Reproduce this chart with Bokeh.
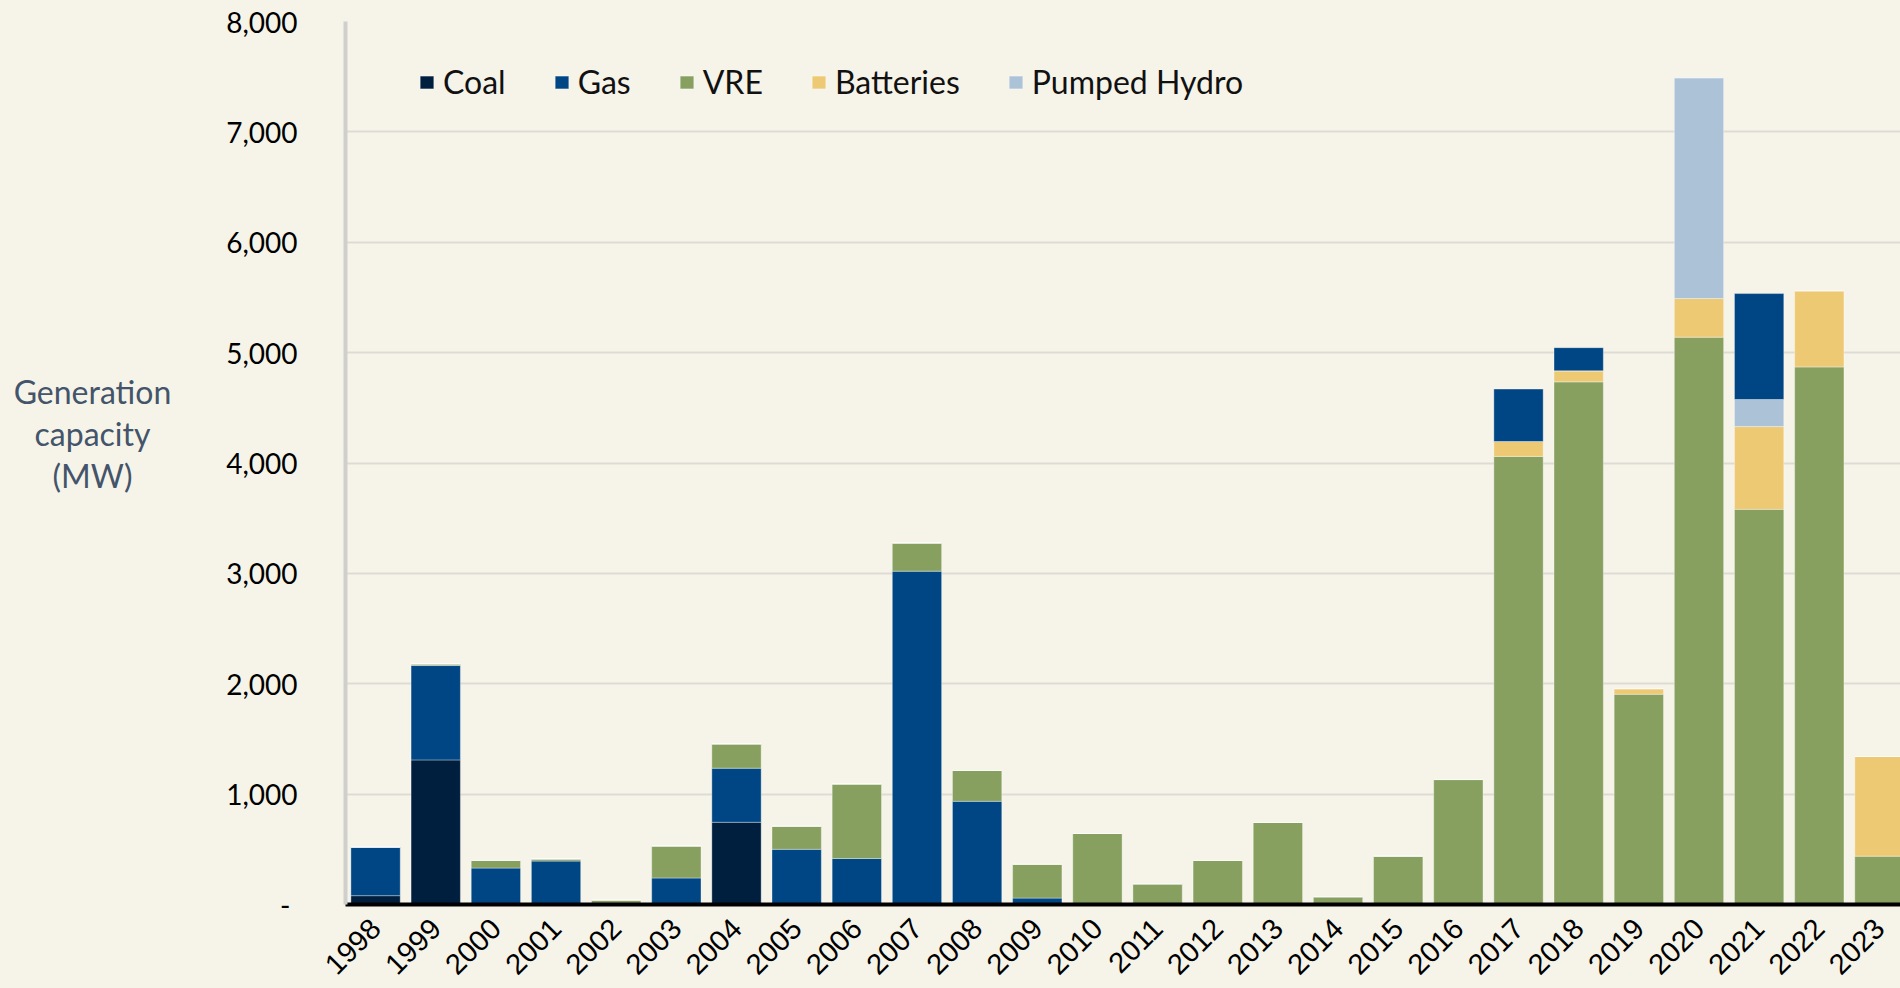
import math
from bokeh.plotting import figure
from bokeh.layouts import row
from bokeh.models import (ColumnDataSource, Range1d, FixedTicker, NumeralTickFormatter,
                          Legend, LegendItem)
from bokeh.core.properties import value
from bokeh.embed import file_html
from bokeh.resources import INLINE

# ---------------- data (MW of new generation capacity per year) ----------------
years = list(range(1998, 2024))
coal = [80, 1310, 0, 0, 0, 0, 745, 0, 0, 0, 0, 0, 0,
        0, 0, 0, 0, 0, 0, 0, 0, 0, 0, 0, 0, 0]
gas = [440, 855, 330, 393, 0, 240, 490, 500, 417, 3020, 935, 58, 0,
       0, 0, 0, 0, 0, 0, 0, 0, 0, 0, 0, 0, 0]
vre = [0, 15, 70, 20, 40, 290, 220, 210, 675, 255, 280, 307, 643,
       187, 399, 743, 70, 438, 1132, 4060, 4735, 1905, 5140, 3580, 4870, 438]
batteries = [0, 0, 0, 0, 0, 0, 0, 0, 0, 0, 0, 0, 0,
             0, 0, 0, 0, 0, 0, 135, 100, 50, 350, 750, 690, 903]
pumped_hydro = [0, 0, 0, 0, 0, 0, 0, 0, 0, 0, 0, 0, 0,
                0, 0, 0, 0, 0, 0, 0, 0, 0, 2000, 245, 0, 0]
gas_top = [0, 0, 0, 0, 0, 0, 0, 0, 0, 0, 0, 0, 0,
           0, 0, 0, 0, 0, 0, 475, 210, 0, 0, 960, 0, 0]
series_names = ["Coal", "Gas", "VRE", "Batteries", "Pumped Hydro"]
y_ticks = [0, 1000, 2000, 3000, 4000, 5000, 6000, 7000, 8000]
y_title_lines = ["Generation", "capacity", "(MW)"]

# ---------------- styling ----------------
BG = "#F6F4E9"
C_COAL = "#001F3F"
C_GAS = "#004684"
C_VRE = "#87A05F"
C_BATT = "#EDC974"
C_PH = "#ABC2D7"
H = 988
TITLE_W = 180
FRAME_TOP = 21
FRAME_BOTTOM = 904

# ---- narrow panel holding the horizontal, centred y-axis title ----
# (its frame is aligned with the main chart's frame by the row layout)
t = figure(width=TITLE_W, height=H, output_backend="svg", toolbar_location=None,
           x_range=Range1d(0, TITLE_W), y_range=Range1d(FRAME_BOTTOM, FRAME_TOP),
           x_axis_type=None, y_axis_type=None,
           min_border=0, min_border_left=0, min_border_right=0,
           min_border_top=0, min_border_bottom=0,
           background_fill_color=BG, border_fill_color=BG, outline_line_color=None)
t.grid.visible = False
t.text(x=[92, 92, 92], y=[391, 433, 475], text=y_title_lines,
       text_align="center", text_baseline="middle",
       text_font=value("Lato"), text_font_size="32px", text_color="#44546A")

# ---- main chart ----
src = ColumnDataSource(dict(year=years, coal=coal, gas=gas, vre=vre,
                            batteries=batteries, pumped_hydro=pumped_hydro,
                            gas_top=gas_top))

p = figure(width=1900 - TITLE_W, height=H, output_backend="svg", toolbar_location=None,
           x_range=Range1d(1997.5, 2023.35), y_range=Range1d(0, 8000),
           min_border_left=345 - TITLE_W, min_border_right=0, min_border_top=FRAME_TOP,
           min_border_bottom=H - FRAME_BOTTOM,
           background_fill_color=BG, border_fill_color=BG, outline_line_color=None)

rs = p.vbar_stack(["coal", "gas", "vre", "batteries", "pumped_hydro", "gas_top"],
                  x="year", width=0.82, source=src,
                  color=[C_COAL, C_GAS, C_VRE, C_BATT, C_PH, C_GAS],
                  line_color="white", line_alpha=0.35, line_width=1)

legend = Legend(items=[LegendItem(label=series_names[i], renderers=[rs[i]]) for i in range(5)],
                orientation="horizontal", location=(73, 803), padding=0, margin=0,
                spacing=47, glyph_width=17, glyph_height=16, label_standoff=8,
                label_height=38,
                label_text_font="Lato", label_text_font_size="32px",
                label_text_color="#111111",
                border_line_color=None, background_fill_alpha=0)
p.add_layout(legend)

# axes
p.xaxis.ticker = FixedTicker(ticks=years)
p.xaxis.major_label_overrides = {y: str(y) for y in years}
p.xaxis.major_label_orientation = math.pi / 4
p.xaxis.major_label_text_font = "Liberation Sans"
p.xaxis.major_label_text_font_size = "29px"
p.xaxis.major_label_text_color = "#000000"
p.xaxis.major_label_standoff = 13
p.xaxis.axis_line_color = "#000000"
p.xaxis.axis_line_width = 4
p.xaxis.major_tick_line_color = None
p.xaxis.minor_tick_line_color = None

p.yaxis.ticker = FixedTicker(ticks=y_ticks)
p.yaxis.formatter = NumeralTickFormatter(format="0,0")
p.yaxis.major_label_overrides = {0: "-\u00a0"}
p.yaxis.major_label_text_font = "Lato"
p.yaxis.major_label_text_font_size = "28px"
p.yaxis.major_label_text_color = "#000000"
p.yaxis.major_label_standoff = 42
p.yaxis.axis_line_color = "#CFCFCB"
p.yaxis.axis_line_width = 4
p.yaxis.major_tick_line_color = None
p.yaxis.minor_tick_line_color = None

p.xgrid.grid_line_color = None
p.ygrid.grid_line_color = "#DDDBD6"
p.ygrid.grid_line_width = 2

layout = row(t, p, spacing=0, styles={"background-color": BG})
open("out.html", "w").write(file_html(layout, INLINE))
